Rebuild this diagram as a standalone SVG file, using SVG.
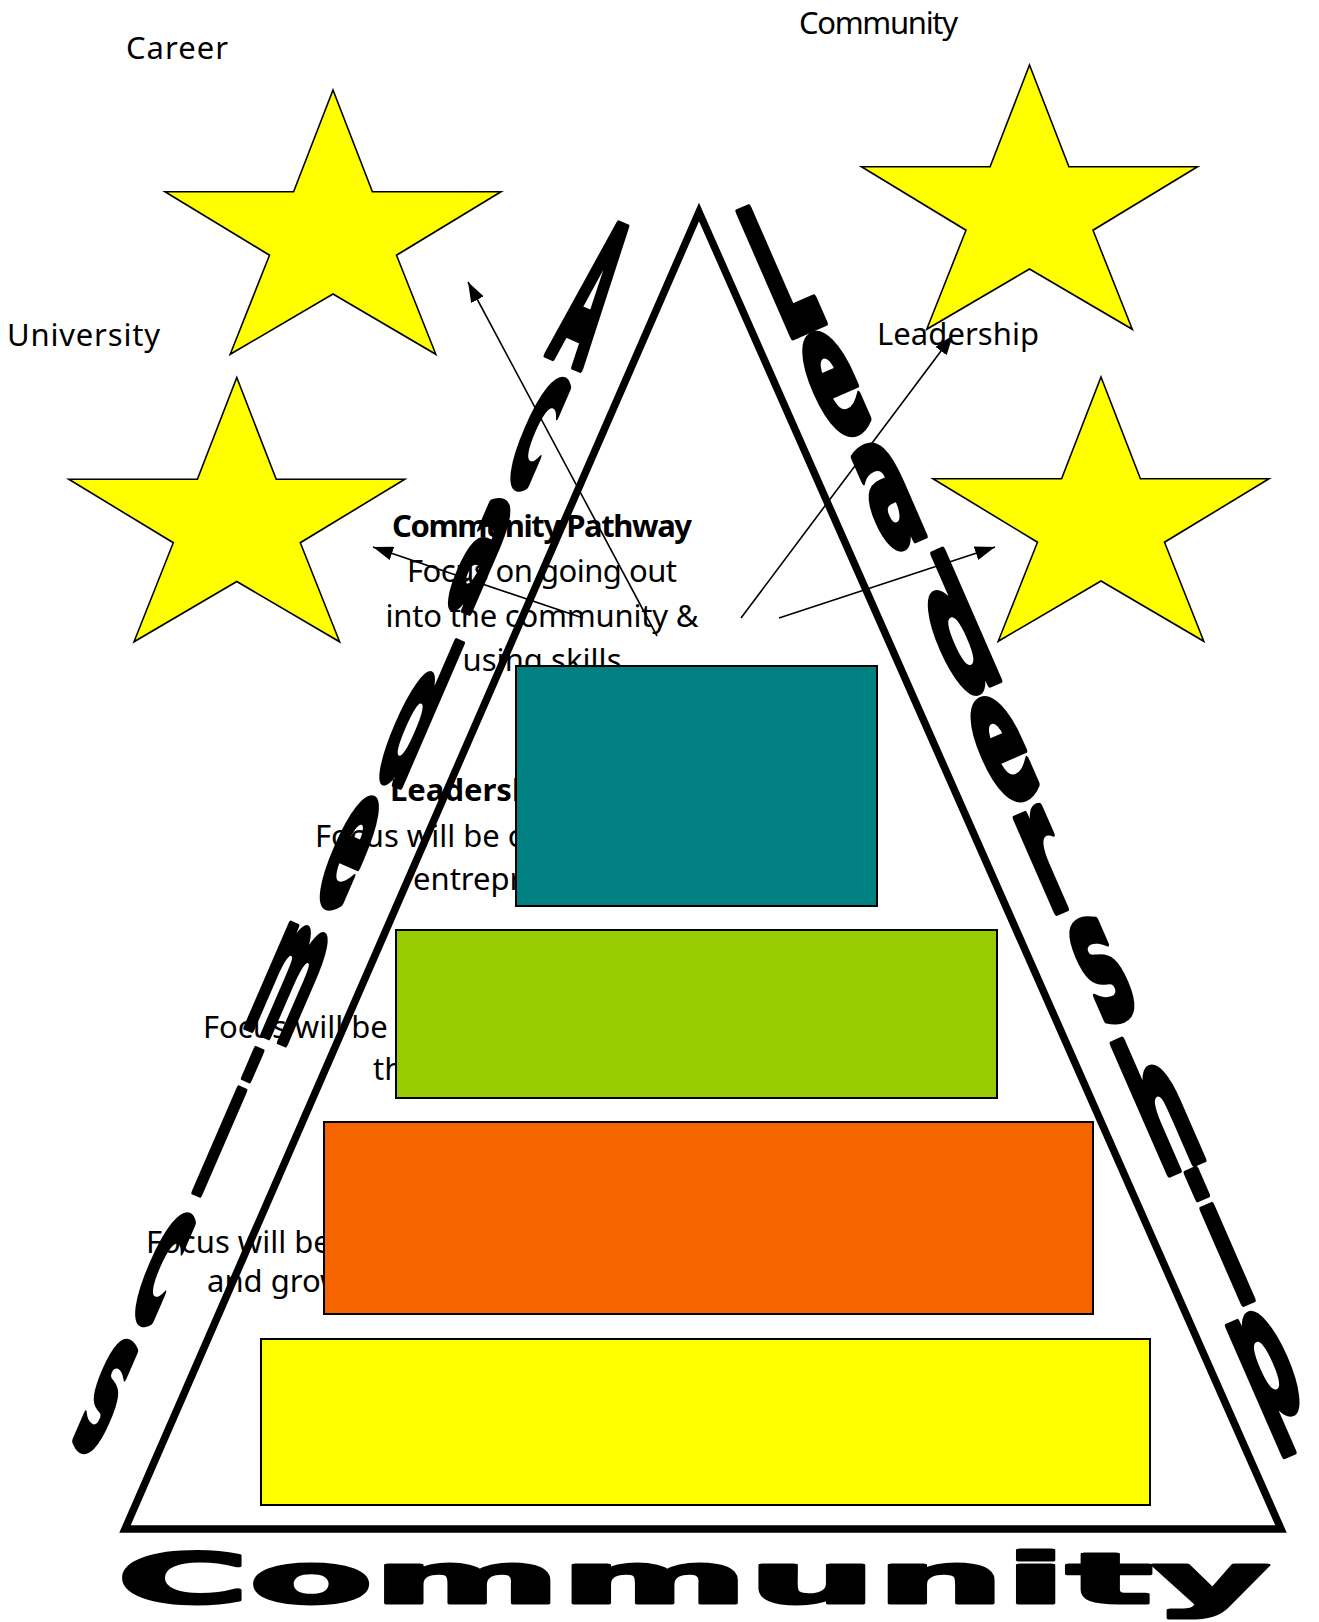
<svg xmlns="http://www.w3.org/2000/svg" width="1319" height="1622" viewBox="0 0 1319 1622">
<defs>
<style>
.lbl{font-family:"Noto Sans","DejaVu Sans",sans-serif;font-size:31px;fill:#000}
.ctr{text-anchor:middle}
.b{font-weight:bold}
.star{fill:#FFFF00;stroke:#000;stroke-width:1.6;stroke-linejoin:miter}
.box{stroke:#000;stroke-width:2}
.wa{font-family:"DejaVu Sans",sans-serif;font-weight:bold;fill:#000;stroke:#000;stroke-width:6;vector-effect:non-scaling-stroke;stroke-linejoin:round}
.conn{stroke:#000;stroke-width:1.6;fill:none;marker-end:url(#ah)}
</style>
<polygon id="starShape" points="0,0 39.4,101.8 168,101.8 63.5,165.2 102.8,264.3 0,204 -102.8,264.3 -63.5,165.2 -168,101.8 -39.4,101.8"/>
<marker id="ah" viewBox="0 0 10 10" refX="10" refY="5" markerWidth="20" markerHeight="14" markerUnits="userSpaceOnUse" orient="auto" preserveAspectRatio="none">
<path d="M0,0 L10,5 L0,10 z" fill="#000"/>
</marker>
</defs>
<rect x="0" y="0" width="1319" height="1622" fill="#fff"/>

<g id="star-career">
<use href="#starShape" class="star" x="333" y="90"/>
<text class="lbl" x="126" y="59" textLength="102">Career</text>
</g>
<g id="star-community">
<use href="#starShape" class="star" x="1029.5" y="65"/>
<text class="lbl" x="799" y="34" textLength="159">Community</text>
</g>
<g id="star-university">
<use href="#starShape" class="star" x="236.8" y="377.5"/>
<text class="lbl" x="7" y="346" textLength="153">University</text>
</g>
<g id="star-leadership">
<use href="#starShape" class="star" x="1101" y="377"/>
<text class="lbl" x="877" y="345" textLength="162">Leadership</text>
</g>

<g id="text-community-pathway">
<text class="lbl ctr b" x="542" y="537" textLength="300">Community Pathway</text>
<text class="lbl ctr" x="542" y="582" textLength="270">Focus on going out</text>
<text class="lbl ctr" x="542" y="627" textLength="313">into the community &amp;</text>
<text class="lbl ctr" x="542" y="671" textLength="159">using skills</text>
</g>
<g id="text-leadership-pathway">
<text class="lbl b" x="390" y="801" font-size="29">Leadership</text>
<text class="lbl" x="315" y="847">Focus will be on</text>
<text class="lbl" x="413" y="890">entrepreneurship</text>
</g>
<g id="text-level3">
<text class="lbl" x="203" y="1038">Focus will be on</text>
<text class="lbl" x="373" y="1080">the</text>
</g>
<g id="text-level4">
<text class="lbl" x="146" y="1253">Focus will be on</text>
<text class="lbl" x="207" y="1292">and growth</text>
</g>

<g id="level-teal"><rect class="box" x="516" y="666" width="361" height="240" fill="#008080"/></g>
<g id="level-green"><rect class="box" x="396" y="930" width="601" height="168" fill="#99CC00"/></g>
<g id="level-orange"><rect class="box" x="324" y="1122" width="769" height="192" fill="#F66400"/></g>
<g id="level-yellow"><rect class="box" x="261" y="1339" width="889" height="166" fill="#FFFF00"/></g>

<g id="pyramid">
<polygon points="699,212 125,1529 1281,1529" fill="none" stroke="#000" stroke-width="7.5" stroke-linejoin="miter"/>
</g>

<g id="word-academics">
<text class="wa" font-size="100" transform="translate(595 289) rotate(23.4) scale(0.52 2.02)" text-anchor="middle" x="0 9 2.5 12 -3 -11 -12 -15 -18" y="39.1 104 171.3 263.9 331.7 403.5 488.6 557.4 626.7">Academics</text>
</g>
<g id="word-leadership">
<text class="wa" font-size="100" transform="translate(779 267) rotate(-23.6) scale(0.72 1.85)" text-anchor="middle" x="0 5 12 25 16 9 20 18 22 8" y="37.3 97.3 164.3 251.9 314.6 379.5 445.4 533.5 613.5 677">Leadership</text>
</g>
<g id="word-community">
<text class="wa" style="stroke-width:3" font-size="69" x="117" y="1603" textLength="1153" lengthAdjust="spacingAndGlyphs">Community</text>
</g>

<g id="connectors">
<line class="conn" x1="657" y1="636" x2="468" y2="282"/>
<line class="conn" x1="583" y1="618" x2="373" y2="547"/>
<line class="conn" x1="741" y1="618" x2="953" y2="335"/>
<line class="conn" x1="779" y1="618" x2="995" y2="547"/>
</g>
</svg>
